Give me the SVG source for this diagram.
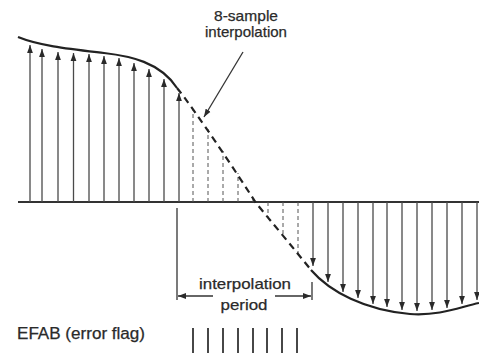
<svg xmlns="http://www.w3.org/2000/svg" width="479" height="353" viewBox="0 0 479 353">
<style>
text{font-family:"Liberation Sans","DejaVu Sans",sans-serif;fill:#2a2a2a;font-size:15px;stroke:#2a2a2a;stroke-width:0.25}
.ar{stroke:#4a4a4a;stroke-width:1.3;fill:none;marker-end:url(#ah)}
.dv{stroke:#555;stroke-width:1;stroke-dasharray:4 3;fill:none}
.cv{stroke:#222;stroke-width:2.2;fill:none}
.cd{stroke:#222;stroke-width:2.2;fill:none;stroke-dasharray:7 5}
.bar{stroke:#333;stroke-width:1.8}
.ln{stroke:#333;stroke-width:1.3}
</style>
<defs>
<marker id="ah" markerUnits="userSpaceOnUse" markerWidth="9" markerHeight="7" refX="8" refY="3.5" orient="auto">
<path d="M0,0.6 L8,3.5 L0,6.4 z" fill="#2a2a2a"/>
</marker>
</defs>
<rect width="479" height="353" fill="#fff"/>
<g id="axis"><line x1="18" y1="202" x2="479" y2="202" stroke="#333" stroke-width="2"/></g>
<g id="samples-up">
<line class="ar" x1="30" y1="202" x2="30" y2="45"/>
<line class="ar" x1="42" y1="202" x2="42" y2="49"/>
<line class="ar" x1="58" y1="202" x2="58" y2="52"/>
<line class="ar" x1="73.5" y1="202" x2="73.5" y2="53"/>
<line class="ar" x1="89" y1="202" x2="89" y2="54"/>
<line class="ar" x1="104" y1="202" x2="104" y2="56"/>
<line class="ar" x1="119" y1="202" x2="119" y2="58"/>
<line class="ar" x1="134" y1="202" x2="134" y2="63"/>
<line class="ar" x1="149" y1="202" x2="149" y2="69"/>
<line class="ar" x1="164" y1="202" x2="164" y2="79"/>
<line class="ar" x1="179" y1="202" x2="179" y2="93"/>
</g>
<g id="samples-interpolated">
<line class="dv" x1="193" y1="202" x2="193" y2="110"/>
<line class="dv" x1="208" y1="202" x2="208" y2="129"/>
<line class="dv" x1="223" y1="202" x2="223" y2="151"/>
<line class="dv" x1="238" y1="202" x2="238" y2="173"/>
<line class="dv" x1="253" y1="202" x2="253" y2="197"/>
<line class="dv" x1="268" y1="202" x2="268" y2="217"/>
<line class="dv" x1="283" y1="202" x2="283" y2="236"/>
<line class="dv" x1="298" y1="202" x2="298" y2="254"/>
</g>
<g id="samples-down">
<line class="ar" x1="313" y1="202" x2="313" y2="266"/>
<line class="ar" x1="328" y1="202" x2="328" y2="282"/>
<line class="ar" x1="343" y1="202" x2="343" y2="292"/>
<line class="ar" x1="358" y1="202" x2="358" y2="298"/>
<line class="ar" x1="373" y1="202" x2="373" y2="304"/>
<line class="ar" x1="387" y1="202" x2="387" y2="307"/>
<line class="ar" x1="402" y1="202" x2="402" y2="310"/>
<line class="ar" x1="417" y1="202" x2="417" y2="311"/>
<line class="ar" x1="432" y1="202" x2="432" y2="310"/>
<line class="ar" x1="447" y1="202" x2="447" y2="308"/>
<line class="ar" x1="462" y1="202" x2="462" y2="304"/>
<line class="ar" x1="477" y1="202" x2="477" y2="300"/>
</g>
<g id="waveform">
<path class="cv" d="M18,37 C40,46 70,49 104,53 C130,56 160,62 177,88"/>
<path class="cd" d="M177,88 C195,110 238,175 256,203 C270,220 295,250 311,270"/>
<path class="cv" d="M311,270 C330,292 365,310 410,314 C440,316 460,307 479,303"/>
</g>
<g id="label-8sample">
<text x="246" y="21" text-anchor="middle" textLength="64" lengthAdjust="spacingAndGlyphs">8-sample</text>
<text x="246" y="37" text-anchor="middle" textLength="82" lengthAdjust="spacingAndGlyphs">interpolation</text>
</g>
<g id="connectors">
<line class="ln" x1="243" y1="52" x2="204" y2="117" marker-end="url(#ah)"/>
<line class="ln" x1="177" y1="208" x2="177" y2="300"/>
<line class="ln" x1="312" y1="282" x2="312" y2="300"/>
<line class="ln" x1="213" y1="296" x2="178" y2="296" marker-end="url(#ah)"/>
<line class="ln" x1="275" y1="296" x2="311" y2="296" marker-end="url(#ah)"/>
</g>
<g id="label-period">
<text x="245" y="289" text-anchor="middle" textLength="92" lengthAdjust="spacingAndGlyphs">interpolation</text>
<text x="244" y="310" text-anchor="middle" textLength="47" lengthAdjust="spacingAndGlyphs">period</text>
</g>
<g id="efab">
<text x="17" y="339" textLength="128" lengthAdjust="spacingAndGlyphs" style="font-size:16px">EFAB (error flag)</text>
<line class="bar" x1="193" y1="328" x2="193" y2="353"/>
<line class="bar" x1="208" y1="328" x2="208" y2="353"/>
<line class="bar" x1="223" y1="328" x2="223" y2="353"/>
<line class="bar" x1="238" y1="328" x2="238" y2="353"/>
<line class="bar" x1="253" y1="328" x2="253" y2="353"/>
<line class="bar" x1="267" y1="328" x2="267" y2="353"/>
<line class="bar" x1="282" y1="328" x2="282" y2="353"/>
<line class="bar" x1="297" y1="328" x2="297" y2="353"/>
</g>
</svg>
